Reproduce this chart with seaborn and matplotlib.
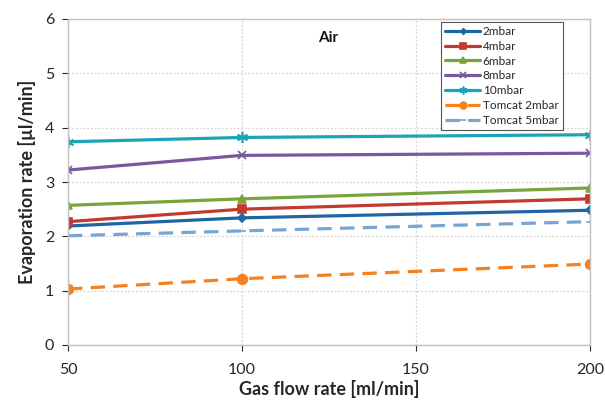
import matplotlib
matplotlib.use("Agg")
import matplotlib.pyplot as plt
import seaborn as sns
import pandas as pd

flow = [50, 100, 200]
series_names = ["2mbar", "4mbar", "6mbar", "8mbar", "10mbar", "Tomcat 2mbar", "Tomcat 5mbar"]
v_2mbar = [2.19, 2.34, 2.48]
v_4mbar = [2.27, 2.50, 2.69]
v_6mbar = [2.57, 2.69, 2.89]
v_8mbar = [3.22, 3.49, 3.53]
v_10mbar = [3.74, 3.82, 3.87]
v_tomcat2 = [1.03, 1.22, 1.49]
v_tomcat5 = [2.01, 2.10, 2.27]
values = [v_2mbar, v_4mbar, v_6mbar, v_8mbar, v_10mbar, v_tomcat2, v_tomcat5]
xticks = [50, 100, 150, 200]
yticks = [0, 1, 2, 3, 4, 5, 6]

colors = ["#1f65a3", "#c1392f", "#78a43a", "#7a58a0", "#1ba4b6", "#f7801f", "#77a5d2"]
markers = ["D", "s", "^", "x", (6, 2, 0), "o", "_"]
msizes = [4, 6, 6, 6, 8, 7, 6]
linestyles = ["-", "-", "-", "-", "-", (0, (4.5, 2.6)), (0, (4.5, 2.6))]

sns.set_theme(style="white")
plt.rcParams['font.family'] = ['Lato', 'DejaVu Sans']

fig = plt.figure(figsize=(6.05, 4.03), dpi=100)
ax = fig.add_axes([68/605, 1-345/403, 522/605, 326/403])

for name, vals, c, m, ms, ls in zip(series_names, values, colors, markers, msizes, linestyles):
    df = pd.DataFrame({"x": flow, "y": vals})
    sns.lineplot(data=df, x="x", y="y", ax=ax, color=c, marker=m, markersize=ms,
                 markeredgecolor=c, markeredgewidth=1.2, linewidth=2.3,
                 linestyle=ls, label=name)

ax.set_xlim(50, 200)
ax.set_ylim(0, 6)
ax.set_xticks(xticks)
ax.set_yticks(yticks)
ax.tick_params(axis='both', labelsize=11.5, colors="#262626", length=4, width=0.8,
               direction='out', left=True, bottom=True, pad=6)
ax.tick_params(axis='x', pad=9)
ax.grid(True, linestyle=(0, (1.5, 1.5)), color="#d4d4d4", linewidth=0.9)
for sp in ax.spines.values():
    sp.set_color("#c0c0c0")
    sp.set_linewidth(1.0)

ax.set_xlabel("Gas flow rate [ml/min]", fontsize=13, fontweight="bold", labelpad=2)
ax.set_ylabel("Evaporation rate [µl/min]", fontsize=13, fontweight="bold", labelpad=6)
ax.text(0.498, 0.942, "Air", transform=ax.transAxes, ha="center", va="center",
        fontsize=11, fontweight="bold", color="#111111")

leg = ax.legend(loc="upper right", bbox_to_anchor=(0.948, 0.992), fontsize=8.5,
                frameon=True, fancybox=False, edgecolor="#555555", framealpha=1,
                labelspacing=0.33, handlelength=3.0, handletextpad=0.2,
                borderpad=0.35, borderaxespad=0, markerscale=0.7)
leg.get_frame().set_linewidth(0.8)

fig.savefig("out.png", dpi=100)
